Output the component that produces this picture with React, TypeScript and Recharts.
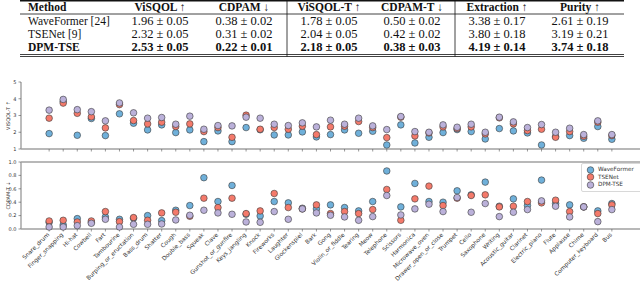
import React from 'react';
import { ScatterChart, Scatter, XAxis, YAxis, ReferenceLine, Legend } from 'recharts';

const categories = ['Snare_drum', 'Finger_snapping', 'Hi-hat', 'Cowbell', 'Fart', 'Tambourine', 'Burping_or_eructation', 'Bass_drum', 'Shatter', 'Cough', 'Double_bass', 'Squeak', 'Clave', 'Gunshot_or_gunfire', 'Keys_jangling', 'Knock', 'Fireworks', 'Laughter', 'Glockenspiel', 'Bark', 'Gong', 'Violin_or_fiddle', 'Tearing', 'Meow', 'Telephone', 'Scissors', 'Harmonica', 'Microwave_oven', 'Drawer_open_or_close', 'Trumpet', 'Cello', 'Saxophone', 'Writing', 'Acoustic_guitar', 'Clarinet', 'Electric_piano', 'Flute', 'Applause', 'Chime', 'Computer_keyboard', 'Bus'];

const seriesNames = ['WaveFormer', 'TSENet', 'DPM-TSE'];
const seriesColors = ['#6fb0da', '#f47a6b', '#bbb1da'];

const visqolWaveFormer = [1.92, 3.85, 1.82, 2.82, 1.80, 3.10, 2.54, 2.14, 2.44, 1.98, 2.14, 1.44, 2.08, 1.44, 2.28, 2.15, 1.84, 1.84, 2.02, 1.72, 1.86, 2.14, 1.94, 2.06, 1.24, 2.44, 1.36, 1.70, 1.98, 2.16, 2.04, 1.60, 2.22, 2.08, 1.96, 1.24, 1.75, 1.80, 1.64, 2.34, 1.58];
const visqolTSENet = [2.84, 3.74, 3.13, 2.92, 2.26, 3.65, 2.70, 2.50, 2.60, 2.34, 2.50, 2.04, 2.28, 1.70, 3.02, 2.18, 2.28, 2.18, 2.36, 1.86, 2.32, 2.36, 2.64, 2.28, 1.68, 2.90, 1.78, 1.96, 2.32, 2.22, 2.32, 1.90, 2.86, 2.50, 2.10, 2.18, 1.70, 2.04, 1.76, 2.60, 1.80];
const visqolDPM = [3.32, 3.96, 3.35, 3.23, 2.68, 3.75, 3.16, 2.84, 2.88, 2.48, 2.96, 2.18, 2.40, 2.38, 2.90, 2.84, 2.48, 2.40, 2.56, 2.32, 2.72, 2.48, 2.84, 2.38, 2.16, 2.94, 2.04, 2.00, 2.44, 2.30, 2.48, 2.00, 2.90, 2.62, 2.28, 2.46, 2.00, 2.24, 1.86, 2.68, 1.86];

const cdpamWaveFormer = [0.10, 0.06, 0.155, 0.10, 0.18, 0.145, 0.16, 0.20, 0.125, 0.28, 0.35, 0.766, 0.41, 0.65, 0.22, 0.194, 0.41, 0.39, 0.31, 0.30, 0.36, 0.32, 0.27, 0.41, 0.866, 0.33, 0.68, 0.41, 0.40, 0.57, 0.51, 0.70, 0.34, 0.45, 0.35, 0.73, 0.38, 0.36, 0.33, 0.27, 0.38];
const cdpamTSENet = [0.12, 0.13, 0.105, 0.12, 0.26, 0.11, 0.17, 0.13, 0.24, 0.25, 0.19, 0.46, 0.32, 0.46, 0.23, 0.27, 0.53, 0.32, 0.30, 0.36, 0.23, 0.26, 0.23, 0.29, 0.59, 0.13, 0.45, 0.64, 0.35, 0.46, 0.50, 0.51, 0.33, 0.34, 0.41, 0.39, 0.43, 0.26, 0.33, 0.23, 0.36];
const cdpamDPM = [0.03, 0.03, 0.05, 0.085, 0.145, 0.03, 0.07, 0.07, 0.075, 0.135, 0.205, 0.28, 0.24, 0.22, 0.105, 0.10, 0.26, 0.145, 0.30, 0.24, 0.205, 0.18, 0.13, 0.185, 0.50, 0.21, 0.30, 0.37, 0.26, 0.47, 0.25, 0.38, 0.185, 0.25, 0.29, 0.42, 0.34, 0.18, 0.33, 0.11, 0.29];

const visqolTicks = [1, 2, 3, 4, 5];
const cdpamTicks = [0, 0.2, 0.4, 0.6, 0.8, 1.0];

const tableHeaders = ['Method', 'ViSQOL ↑', 'CDPAM ↓', 'ViSQOL-T ↑', 'CDPAM-T ↓', 'Extraction ↑', 'Purity ↑'];
const tableMethods = ['WaveFormer [24]', 'TSENet [9]', 'DPM-TSE'];
const tableMeans = [
  [1.96, 0.38, 1.78, 0.50, 3.38, 2.61],
  [2.32, 0.31, 2.04, 0.42, 3.80, 3.19],
  [2.53, 0.22, 2.18, 0.38, 4.19, 3.74],
];
const tableErrors = [
  [0.05, 0.02, 0.05, 0.02, 0.17, 0.19],
  [0.05, 0.02, 0.05, 0.02, 0.18, 0.21],
  [0.05, 0.01, 0.05, 0.03, 0.14, 0.18],
];

const idx = categories.map((_, i) => i);
const toPoints = (vals: number[]) => vals.map((v, i) => ({ x: i, y: v }));

const FONT = 'DejaVu Sans';
const AXIS = '#a0a0a0';
const TXT = '#333';

const makeDot = (color: string) => (props: any) => (
  <circle cx={props.cx} cy={props.cy} r={3.3} fill={color} stroke="#3a3a3a" strokeWidth={0.6} />
);

const XTick = (props: any) => {
  const { x, y, payload } = props;
  const yy = y + 2.6;
  return (
    <text x={x + 0.5} y={yy} transform={`rotate(-45 ${x + 0.5} ${yy})`} textAnchor="end" fontSize={5.8} fontFamily={FONT} fill={TXT}>
      {categories[payload.value]}
    </text>
  );
};

const YLabel = (text: string) => (props: any) => {
  const vb = props.viewBox || {};
  const cx = 7.5;
  const cy = vb.y + vb.height / 2;
  return (
    <text x={cx} y={cy} transform={`rotate(-90 ${cx} ${cy})`} textAnchor="middle" dominantBaseline="central" fontSize={5} fontFamily={FONT} fill={TXT}>
      {text}
    </text>
  );
};

const LegendBox = () => (
  <div style={{ border: '1px solid #d8d8d8', borderRadius: 2, background: 'rgba(255,255,255,0.9)', padding: '2px 0 2px 4px', width: 62, boxSizing: 'border-box' }}>
    {seriesNames.map((n, i) => (
      <div key={n} style={{ display: 'flex', alignItems: 'center', height: 7.6 }}>
        <svg width={9} height={8} style={{ marginRight: 3 }}>
          <circle cx={4.5} cy={4} r={3.3} fill={seriesColors[i]} stroke="#3a3a3a" strokeWidth={0.6} />
        </svg>
        <span style={{ fontFamily: FONT, fontSize: 5.7, color: TXT, lineHeight: '7px' }}>{n}</span>
      </div>
    ))}
  </div>
);

const colX = [160, 244, 329, 412, 497, 580];

const Table = () => (
  <svg width={640} height={62} style={{ position: 'absolute', left: 0, top: 0 }}>
    <line x1={20} x2={624} y1={0.8} y2={0.8} stroke="#111" strokeWidth={1.6} />
    <line x1={20} x2={624} y1={14} y2={14} stroke="#111" strokeWidth={0.8} />
    <line x1={20} x2={624} y1={54.5} y2={54.5} stroke="#111" strokeWidth={0.8} />
    <line x1={20} x2={624} y1={56.5} y2={56.5} stroke="#111" strokeWidth={0.8} />
    <line x1={287} x2={287} y1={0} y2={56.5} stroke="#111" strokeWidth={0.8} />
    <line x1={455} x2={455} y1={0} y2={56.5} stroke="#111" strokeWidth={0.8} />
    {tableHeaders.map((h, i) => (
      <text key={h} x={i === 0 ? 28 : colX[i - 1]} y={11.2} textAnchor={i === 0 ? 'start' : 'middle'} fontFamily="Liberation Serif" fontWeight="bold" fontSize={11.5} fill="#111">
        {h}
      </text>
    ))}
    {tableMethods.map((m, r) => (
      <g key={m}>
        <text x={28} y={24.5 + r * 13.2} fontFamily="Liberation Serif" fontWeight={r === 2 ? 'bold' : 'normal'} fontSize={11.5} fill="#111">
          {m}
        </text>
        {tableMeans[r].map((v, c) => (
          <text key={c} x={colX[c]} y={24.5 + r * 13.2} textAnchor="middle" fontFamily="Liberation Serif" fontWeight={r === 2 ? 'bold' : 'normal'} fontSize={12.5} fill="#111" xmlSpace="preserve">
            {`${v.toFixed(2)} ± ${tableErrors[r][c].toFixed(2)}`}
          </text>
        ))}
      </g>
    ))}
  </svg>
);

const seriesVisqol = [visqolWaveFormer, visqolTSENet, visqolDPM];
const seriesCdpam = [cdpamWaveFormer, cdpamTSENet, cdpamDPM];

export default function App() {
  return (
    <div style={{ position: 'absolute', left: 0, top: 0, width: 640, height: 281, background: '#fff', overflow: 'hidden' }}>
      <Table />
      <div style={{ position: 'absolute', left: 0, top: 0 }}>
        <ScatterChart width={640} height={160} margin={{ top: 82, right: 0, bottom: 1, left: 0 }}>
          <XAxis type="number" dataKey="x" domain={[-2, 42]} ticks={idx} interval={0} allowDataOverflow height={10}
            tick={() => <g />} tickSize={2.5} axisLine={{ stroke: AXIS, strokeWidth: 1.4 }} tickLine={{ stroke: '#555', strokeWidth: 0.6 }} />
          <YAxis type="number" dataKey="y" domain={[1, 5]} ticks={visqolTicks} width={21} tickSize={2.5} tickMargin={2}
            axisLine={{ stroke: AXIS, strokeWidth: 1.4 }} tickLine={{ stroke: '#555', strokeWidth: 0.6 }}
            tick={{ fontSize: 5, fontFamily: FONT, fill: TXT }} label={YLabel('VISQOL-T ↑')} />
          {seriesVisqol.map((s, i) => (
            <Scatter key={seriesNames[i]} name={seriesNames[i]} data={toPoints(s)} fill={seriesColors[i]} shape={makeDot(seriesColors[i])} isAnimationActive={false} />
          ))}
        </ScatterChart>
      </div>
      <div style={{ position: 'absolute', left: 0, top: 0 }}>
        <ScatterChart width={640} height={281} margin={{ top: 162, right: 0, bottom: 0, left: 0 }}>
          <XAxis type="number" dataKey="x" domain={[-2, 42]} ticks={idx} interval={0} allowDataOverflow height={52}
            tick={<XTick />} tickSize={2.5} tickMargin={1} axisLine={{ stroke: AXIS, strokeWidth: 1.4 }} tickLine={{ stroke: '#555', strokeWidth: 0.6 }} />
          <YAxis type="number" dataKey="y" domain={[0, 1]} ticks={cdpamTicks} width={21} tickSize={2.5} tickMargin={2}
            axisLine={{ stroke: AXIS, strokeWidth: 1.4 }} tickLine={{ stroke: '#555', strokeWidth: 0.6 }}
            tickFormatter={(v: number) => v.toFixed(1)}
            tick={{ fontSize: 5, fontFamily: FONT, fill: TXT }} label={YLabel('CDPAM-T ↓')} />
          <ReferenceLine y={1} stroke={AXIS} strokeWidth={1.4} />
          {seriesCdpam.map((s, i) => (
            <Scatter key={seriesNames[i]} name={seriesNames[i]} data={toPoints(s)} fill={seriesColors[i]} shape={makeDot(seriesColors[i])} isAnimationActive={false} />
          ))}
          <Legend layout="vertical" align="center" verticalAlign="middle" content={() => <LegendBox />}
            wrapperStyle={{ position: 'absolute', left: 581, top: 163, width: 62 }} />
        </ScatterChart>
      </div>
    </div>
  );
}
